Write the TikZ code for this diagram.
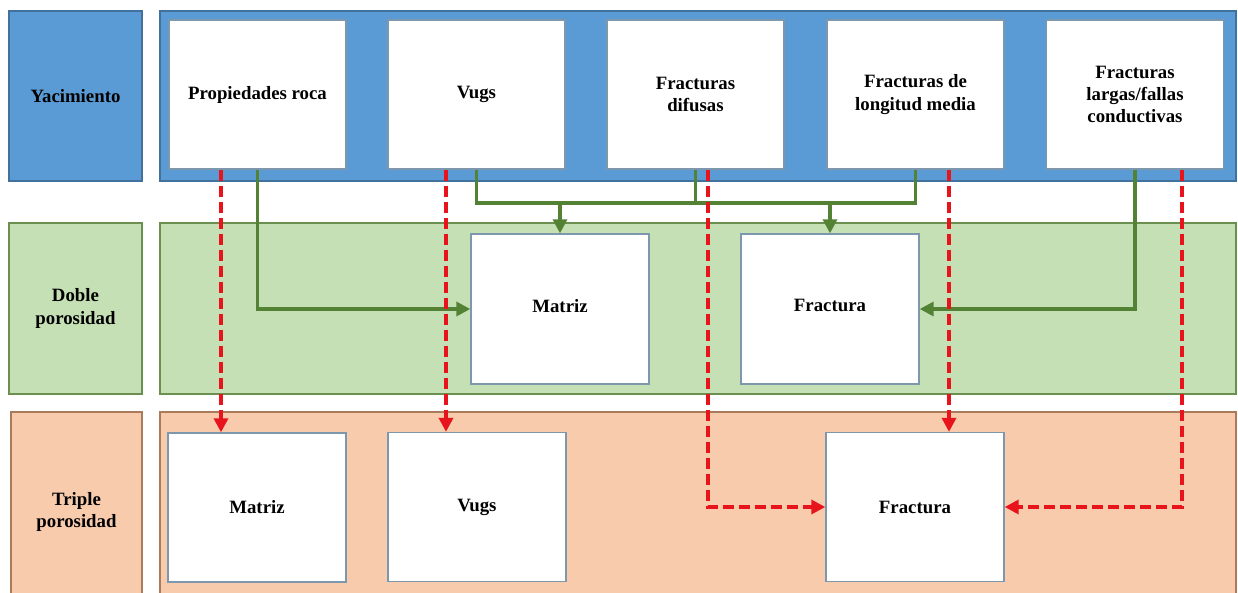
\documentclass[tikz,border=0pt]{standalone}
\usepackage{fontspec}
\setmainfont{Liberation Serif}
\usetikzlibrary{arrows.meta}
\definecolor{bluefill}{HTML}{5B9BD5}
\definecolor{blueline}{HTML}{41719C}
\definecolor{greenfill}{HTML}{C5E0B4}
\definecolor{greenline}{HTML}{6A8F4F}
\definecolor{orangefill}{HTML}{F8CBAD}
\definecolor{orangeline}{HTML}{A97B5B}
\definecolor{boxline}{HTML}{7D98AD}
\definecolor{linkgreen}{HTML}{548235}
\definecolor{linkred}{HTML}{E8141B}
\tikzset{
  txt/.style={font=\fontsize{10.7}{12.6}\selectfont\bfseries, align=center},
  band/.style={line width=0.8pt, inner sep=0pt},
  bluepanel/.style={band, draw=blueline, fill=bluefill},
  greenpanel/.style={band, draw=greenline, fill=greenfill},
  orangepanel/.style={band, draw=orangeline, fill=orangefill},
  whitebox/.style={txt, draw=boxline, fill=white, line width=0.8pt, inner sep=0pt},
  topbox/.style={whitebox, minimum width=3.54cm, minimum height=2.98cm},
  midbox/.style={whitebox, minimum width=3.56cm, minimum height=3.0cm},
  lowbox/.style={whitebox, minimum width=3.56cm, minimum height=2.98cm},
  glink/.style={draw=linkgreen, line width=1.9pt},
  garrow/.style={glink, -{Triangle[length=0.28cm,width=0.28cm]}},
  rarrow/.style={draw=linkred, line width=1.9pt, dash pattern=on 0.22cm off 0.1cm,
                 -{Triangle[length=0.28cm,width=0.28cm]}},
}
\newcommand{\lifted}[1]{\raisebox{0.14cm}{#1}}
\begin{document}
\begin{tikzpicture}[x=0.02cm, y=-0.02cm]
\useasboundingbox (0,0) rectangle (1238,592);
\clip (0,0) rectangle (1238,592);

% row panels
\node[bluepanel, txt, minimum width=2.66cm, minimum height=3.4cm] (yac) at (75.5,96) {Yacimiento};
\node[bluepanel, minimum width=21.52cm, minimum height=3.4cm] (topband) at (698,96) {};
\node[greenpanel, txt, minimum width=2.66cm, minimum height=3.42cm] (dob) at (75.5,308.5) {Doble\\porosidad};
\node[greenpanel, minimum width=21.52cm, minimum height=3.42cm] (midband) at (698,308.5) {};
\node[orangepanel, txt, minimum width=2.62cm, minimum height=4.0cm] (tri) at (76.5,512) {Triple\\porosidad};
\node[orangepanel, minimum width=21.52cm, minimum height=4.0cm] (lowband) at (698,512) {};

% reservoir elements
\node[topbox] (prop) at (257.5,94.5) {Propiedades roca};
\node[topbox] (vugs) at (476.5,94.5) {Vugs};
\node[topbox] (difu) at (695.5,94.5) {Fracturas\\difusas};
\node[topbox] (media) at (915.5,94.5) {Fracturas de\\longitud media};
\node[topbox] (larga) at (1135,94.5) {Fracturas\\largas/fallas\\conductivas};

% dual porosity model
\node[midbox] (dmat) at (560,309) {\lifted{Matriz}};
\node[midbox] (dfra) at (830,309) {\lifted{Fractura}};

% triple porosity model
\node[lowbox] (tmat) at (257,507.5) {Matriz};
\node[lowbox] (tvug) at (477,507) {Vugs};
\node[lowbox] (tfra) at (915,507) {Fractura};

% helper coordinates for link routing
\coordinate (gbus) at (0,203);
\coordinate (r1) at (221,0);
\coordinate (r2) at (446,0);
\coordinate (r3) at (708,0);
\coordinate (r4) at (949,0);
\coordinate (r5) at (1182,0);

% dual porosity links
\draw[garrow] (prop.south) |- (dmat.west);
\draw[glink] (vugs.south) -- (vugs.south |- gbus) -- (media.south |- gbus) -- (media.south);
\draw[glink] (difu.south) -- (difu.south |- gbus);
\draw[garrow] (dmat.north |- gbus) -- (dmat.north);
\draw[garrow] (dfra.north |- gbus) -- (dfra.north);
\draw[garrow] (larga.south) |- (dfra.east);

% triple porosity links
\draw[rarrow] (prop.south -| r1) -- (tmat.north -| r1);
\draw[rarrow] (vugs.south -| r2) -- (tvug.north -| r2);
\draw[rarrow] (difu.south -| r3) |- (tfra.west);
\draw[rarrow] (media.south -| r4) -- (tfra.north -| r4);
\draw[rarrow] (larga.south -| r5) |- (tfra.east);
\end{tikzpicture}
\end{document}
